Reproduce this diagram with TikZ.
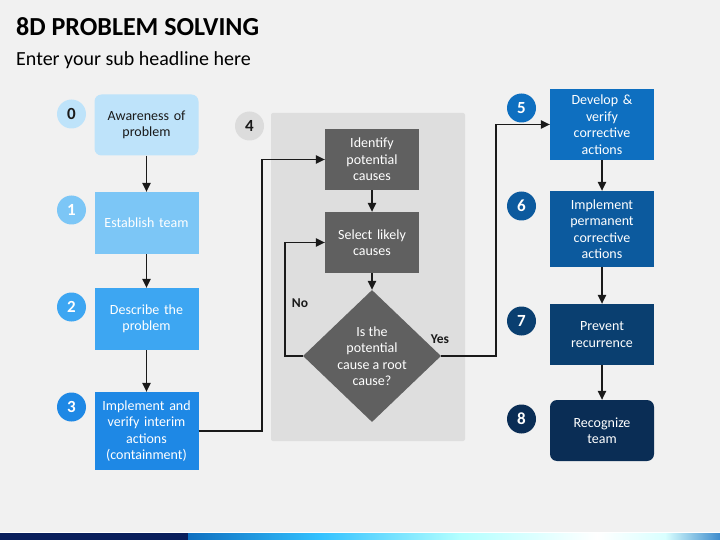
\documentclass[tikz,border=0pt]{standalone}
\usepackage{fontspec}
\setmainfont{Carlito}
\usetikzlibrary{shapes.geometric,arrows.meta,calc}
\definecolor{bgc}{HTML}{F1F1F1}
\definecolor{panelc}{HTML}{DEDEDE}
\definecolor{circfour}{HTML}{DCDCDC}
\definecolor{darkgray}{HTML}{606060}
\definecolor{cz}{HTML}{BEE3FA}
\definecolor{cone}{HTML}{7CC6F6}
\definecolor{ctwo}{HTML}{3DA6F2}
\definecolor{cthree}{HTML}{1E88E5}
\definecolor{cfive}{HTML}{0E6FC0}
\definecolor{csix}{HTML}{0C5A9E}
\definecolor{cseven}{HTML}{0A3F70}
\definecolor{ceight}{HTML}{0A2D55}
\definecolor{linec}{HTML}{1A1A1A}
\definecolor{navy}{HTML}{0A1F5C}
\tikzset{
  stepbox/.style={draw=none, align=center, font=\fontsize{14}{16.5}\selectfont, inner sep=1pt, text width=100pt, minimum width=104pt},
  numcirc/.style={circle, minimum size=29pt, inner sep=0pt, font=\fontsize{17}{18}\selectfont\bfseries},
  arr/.style={draw=linec, line width=1.1pt, -{Triangle[length=9pt,width=8.5pt]}},
  conn/.style={draw=linec, line width=1.1pt},
  lbl/.style={font=\fontsize{13.5}{15}\selectfont\bfseries, text=linec}
}
\begin{document}
\begin{tikzpicture}[x=1pt,y=-1pt]
\useasboundingbox (0,0) rectangle (720,540);
\fill[bgc] (0,0) rectangle (720,540);
% title
\node[anchor=base west, inner sep=0pt, font=\fontsize{26}{29}\selectfont\bfseries, text=black] (title) at (16,36) {8D PROBLEM SOLVING};
\node[anchor=base west, inner sep=0pt, font=\fontsize{20}{22}\selectfont, text=black] (sub) at (16,66) {Enter your sub headline here};
% panel
\fill[panelc, rounded corners=2pt] (271,113) rectangle (465,441);
% left column
\node[stepbox, fill=cz, text=linec, rounded corners=7pt, minimum height=61pt] (b0) at (146.5,125) {Awareness of\\problem};
\node[stepbox, fill=cone, text=white, minimum height=62pt] (b1) at (146.5,223) {Establish team};
\node[stepbox, fill=ctwo, text=white, minimum height=62pt] (b2) at (146.5,319) {Describe the\\problem};
\node[stepbox, fill=cthree, text=white, minimum height=78pt] (b3) at (146.5,431) {Implement and\\verify interim\\actions\\(containment)};
\node[numcirc, fill=cz, text=linec] (n0) at (71.5,114) {0};
\node[numcirc, fill=cone, text=white] (n1) at (71.5,210) {1};
\node[numcirc, fill=ctwo, text=white] (n2) at (71.5,307) {2};
\node[numcirc, fill=cthree, text=white] (n3) at (71.5,407) {3};
% middle
\node[numcirc, fill=circfour, text=linec] (n4) at (249.5,126) {4};
\node[stepbox, fill=darkgray, text=white, text width=92pt, minimum width=94pt, minimum height=61pt] (id) at (372,159.5) {Identify\\potential\\causes};
\node[stepbox, fill=darkgray, text=white, text width=92pt, minimum width=94pt, minimum height=61pt] (sel) at (372,242.5) {Select likely\\causes};
\node[diamond, fill=darkgray, inner sep=0pt, minimum width=138pt, minimum height=132pt] (dia) at (372,356) {};
\node[text=white, align=center, font=\fontsize{14}{16.5}\selectfont, inner sep=0pt] (diatext) at (dia.center) {Is the\\potential\\cause a root\\cause?};
\node[lbl] (no) at (300,303) {No};
\node[lbl] (yes) at (440,339) {Yes};
% right column
\node[stepbox, fill=cfive, text=white, minimum height=71pt] (b5) at (602,124.5) {Develop \&\\verify\\corrective\\actions};
\node[stepbox, fill=csix, text=white, minimum height=76pt] (b6) at (602,229) {Implement\\permanent\\corrective\\actions};
\node[stepbox, fill=cseven, text=white, minimum height=61pt] (b7) at (602,334.5) {Prevent\\recurrence};
\node[stepbox, fill=ceight, text=white, rounded corners=7pt, minimum height=61pt] (b8) at (602,430.5) {Recognize\\team};
\node[numcirc, fill=cfive, text=white] (n5) at (521.5,108) {5};
\node[numcirc, fill=csix, text=white] (n6) at (521.5,206) {6};
\node[numcirc, fill=cseven, text=white] (n7) at (521.5,321) {7};
\node[numcirc, fill=ceight, text=white] (n8) at (521.5,419) {8};
% connectors
\draw[arr] (b0) -- (b1);
\draw[arr] (b1) -- (b2);
\draw[arr] (b2) -- (b3);
\coordinate (jA) at (262,300);
\draw[arr] (b3.east) -- (b3.east -| jA) -- (jA |- id.west) -- (id.west);
\draw[arr] (id) -- (sel);
\draw[arr] (sel) -- (dia);
\coordinate (jN) at (285,300);
\draw[arr] (dia.west) -- (dia.west -| jN) -- (jN |- sel.west) -- (sel.west);
\coordinate (jY) at (496,300);
\draw[arr] (dia.east) -- (dia.east -| jY) -- (jY |- b5.west) -- (b5.west);
\draw[arr] (b5) -- (b6);
\draw[arr] (b6) -- (b7);
\draw[arr] (b7) -- (b8);
% bottom bar
\fill[white] (0,531.5) rectangle (720,533);
\fill[navy] (0,533) rectangle (188,540);
\shade[left color=cfive, right color=cyan!70!blue!80] (188,533) rectangle (320,540);
\shade[left color=cyan!70!blue!80, right color=cyan!30!white] (320,533) rectangle (460,540);
\shade[left color=cyan!30!white, right color=white] (460,533) rectangle (597,540);
\shade[left color=white, right color=cyan!15!white] (597,533) rectangle (665,540);
\shade[left color=cyan!15!white, right color=cfive!80!white] (665,533) rectangle (720,540);
\end{tikzpicture}
\end{document}
